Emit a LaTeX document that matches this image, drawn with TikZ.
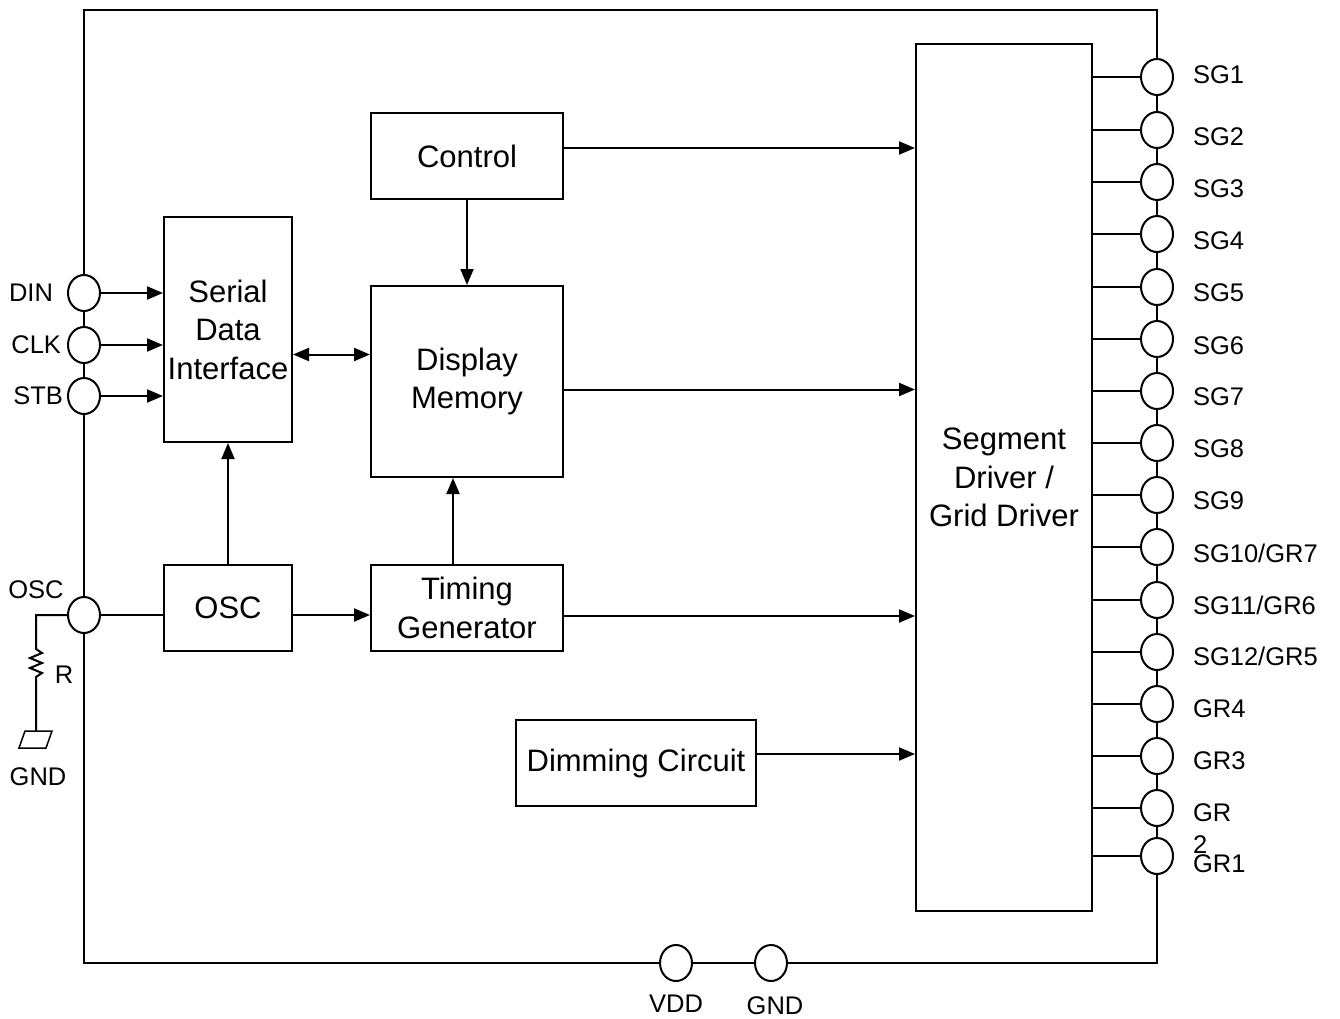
\documentclass[tikz,border=0pt]{standalone}
\usepackage{fontspec}
\setmainfont{Liberation Sans}
\usetikzlibrary{arrows.meta}
\usetikzlibrary{shapes.geometric}

\begin{document}
\begin{tikzpicture}[x = 1pt, y = -1pt, line width = 2pt,
    blk/.style = {draw, rectangle, align = center, inner sep = 0,
        font = \fontsize{31}{38.5}\selectfont},
    pad/.style = {draw, ellipse, fill = white, inner sep = 0,
        minimum width = 32, minimum height = 36},
    lbl/.style = {inner sep = 0, font = \fontsize{25.5}{33}\selectfont},
    arr/.style = {-{Triangle[length = 16pt, width = 13pt]}}]
    \useasboundingbox (0, 0) rectangle (1340, 1019);

    %% chip outline
    \draw (84, 10) rectangle (1157, 963);

    %% blocks
    \node[blk, minimum width = 192, minimum height = 86] (ctrl) at (467, 156) {Control};
    \node[blk, minimum width = 192, minimum height = 191] (mem) at (467, 381.5) {Display\\Memory};
    \node[blk, minimum width = 128, minimum height = 225] (sdi) at (228, 329.5) {Serial\\Data\\Interface};
    \node[blk, minimum width = 128, minimum height = 86] (osc) at (228, 608) {OSC};
    \node[blk, minimum width = 192, minimum height = 86] (tgen) at (467, 608) {Timing\\Generator};
    \node[blk, minimum width = 240, minimum height = 86] (dim) at (636, 763) {Dimming Circuit};
    \node[blk, minimum width = 176, minimum height = 867] (drv) at (1004, 477.5) {Segment\\Driver /\\Grid Driver};

    %% left pins
    \node[pad] (pDIN) at (84, 293) {};
    \node[pad] (pCLK) at (84, 345) {};
    \node[pad] (pSTB) at (84, 396) {};
    \node[pad] (pOSC) at (84, 615) {};
    \node[lbl, anchor = east] (tDIN) at (54, 293) {DIN};
    \node[lbl, anchor = east] (tCLK) at (62, 345) {CLK};
    \node[lbl, anchor = east] (tSTB) at (64, 396) {STB};
    \node[lbl] (tOSC) at (36, 590) {OSC};

    %% bottom pins
    \node[pad] (pVDD) at (676, 963) {};
    \node[pad] (pGND) at (771, 963) {};
    \node[lbl] (tVDD) at (676, 1004) {VDD};
    \node[lbl] (tGND) at (775, 1006) {GND};

    %% right pins
    \foreach \py/\ly/\txt [count = \i] in {77/75/SG1, 130/137/SG2, 182/189/SG3,
        234/241/SG4, 287/293/SG5, 339/346/SG6, 391/397/SG7, 443/449/SG8,
        495/501/SG9, 547/553/{SG10/GR7}, 600/605/{SG11/GR6}, 652/656/{SG12/GR5},
        704/709/GR4, 756/761/GR3, 808/813/GR, 856/864/GR1} {
        \node[pad] (p\i) at (1157, \py) {};
        \node[lbl, anchor = west] (t\i) at (1192, \ly) {\txt};
        \draw (p\i.west) -- (p\i.west -| drv.east);
    }
    \node[lbl, anchor = west] (t15b) at (1192, 845) {2};

    %% signal paths
    \draw[arr] (pDIN.east) -- (pDIN.east -| sdi.west);
    \draw[arr] (pCLK.east) -- (pCLK.east -| sdi.west);
    \draw[arr] (pSTB.east) -- (pSTB.east -| sdi.west);
    \draw[{Triangle[length = 16pt, width = 13pt]}-{Triangle[length = 16pt, width = 13pt]}]
        ([yshift = -25pt]sdi.east) -- ([yshift = -25pt]sdi.east -| mem.west);
    \draw[arr] (ctrl.south) -- (mem.north);
    \draw[arr] ([yshift = 8pt]ctrl.east) -- ([yshift = 8pt]ctrl.east -| drv.west);
    \draw[arr] ([yshift = -8pt]mem.east) -- ([yshift = -8pt]mem.east -| drv.west);
    \draw[arr] ([yshift = -8pt]tgen.east) -- ([yshift = -8pt]tgen.east -| drv.west);
    \draw[arr] ([yshift = 9pt]dim.east) -- ([yshift = 9pt]dim.east -| drv.west);
    \draw[arr] (osc.north) -- (sdi.south);
    \draw (pOSC.east) -- (pOSC.east -| osc.west);
    \draw[arr] (pOSC.east -| osc.east) -- (pOSC.east -| tgen.west);
    \draw[arr] ([xshift = -14pt]tgen.north) -- ([xshift = -14pt]tgen.north |- mem.south);

    %% external resistor to ground
    \coordinate (rtop) at (36, 649);
    \coordinate (gnd) at (36, 731);
    \draw (pOSC.west) -- (pOSC.west -| rtop) -- (rtop)
        -- (42, 653) -- (30, 658) -- (42, 663) -- (30, 668) -- (42, 673) -- (36, 677)
        -- (gnd);
    \draw[line width = 1.5pt] (25, 731) -- (52, 731) -- (46, 748) -- (19, 748) -- cycle;
    \node[lbl] (tR) at (64, 675) {R};
    \node[lbl] (tGNDr) at (38, 777) {GND};
\end{tikzpicture}
\end{document}
